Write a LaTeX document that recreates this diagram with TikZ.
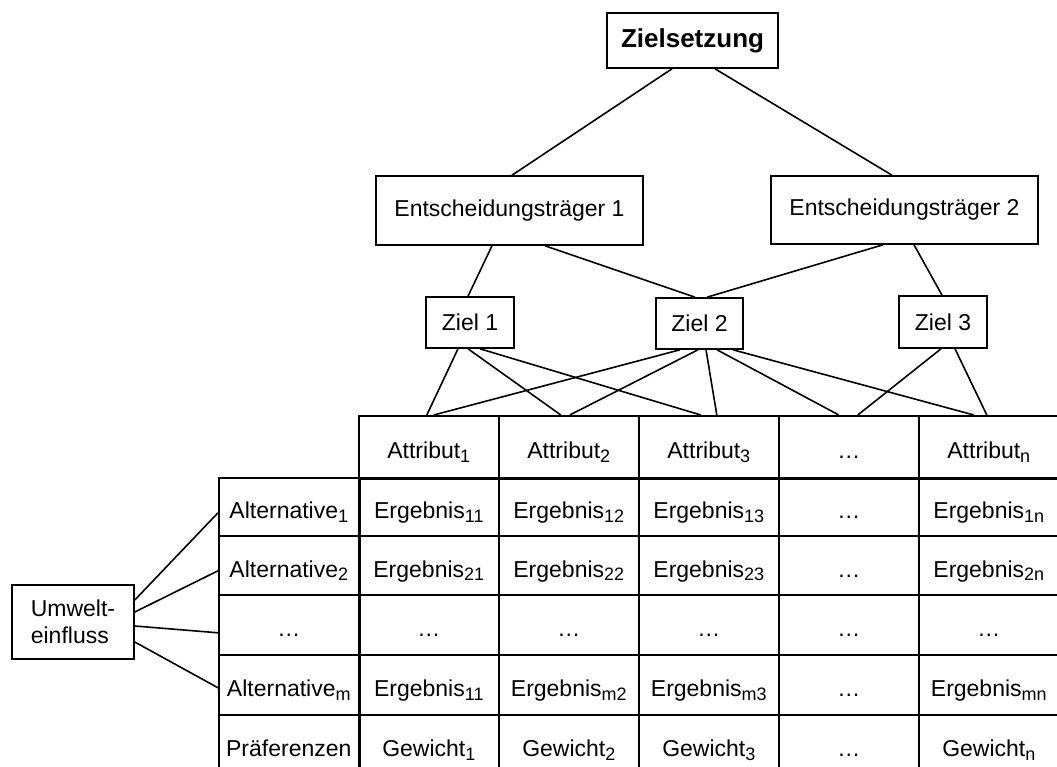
\documentclass[tikz,border=0pt]{standalone}
\usepackage{fontspec}
\setmainfont{Liberation Sans}
\usetikzlibrary{positioning}
\newcommand\sub[1]{\raisebox{-3.5pt}{\fontsize{18}{18}\selectfont #1}}

\begin{document}
\begin{tikzpicture}[x=1pt,y=-1pt,
    font=\fontsize{23}{27}\selectfont,
    box/.style={draw, line width=1.6pt, inner sep=0pt, align=left},
    cell/.style={draw, line width=1.6pt, inner sep=0pt, minimum width=140pt, text height=24pt, text depth=0pt, anchor=north west},
    link/.style={line width=1.6pt}]
    \useasboundingbox (0,0) rectangle (1057,767);
    \clip (0,0) rectangle (1057,767);

    \node[box, minimum width=171pt, minimum height=55pt, font=\bfseries\fontsize{26}{30}\selectfont] (ziel) at (692.5,40.5) {Zielsetzung};
    \node[box, minimum width=267pt, minimum height=69pt] (dm1) at (509.5,210.5) {Entscheidungsträger 1};
    \node[box, minimum width=267pt, minimum height=68pt] (dm2) at (904.5,210) {Entscheidungsträger 2};
    \node[box, minimum width=88pt, minimum height=51pt] (z1) at (470,322.5) {Ziel 1};
    \node[box, minimum width=87pt, minimum height=51pt] (z2) at (699.5,323.5) {Ziel 2};
    \node[box, minimum width=88pt, minimum height=52pt] (z3) at (943,322) {Ziel 3};
    \node[box, minimum width=122pt, minimum height=74pt] (umw) at (73,622) {Umwelt-\\einfluss};

    \foreach \t [count=\j] in {Attribut\sub{1}, Attribut\sub{2}, Attribut\sub{3}, \ldots, Attribut\sub{n}}
      \node[cell, minimum height=62pt] (a\j) at ({218+140*\j},415) {\t};
    \foreach \t [count=\j from 0] in {Alternative\sub{1}, Ergebnis\sub{11}, Ergebnis\sub{12}, Ergebnis\sub{13}, \ldots, Ergebnis\sub{1n}}
      \node[cell, minimum height=58pt] (r1-\j) at ({218+140*\j},477) {\t};
    \foreach \t [count=\j from 0] in {Alternative\sub{2}, Ergebnis\sub{21}, Ergebnis\sub{22}, Ergebnis\sub{23}, \ldots, Ergebnis\sub{2n}}
      \node[cell, minimum height=59pt] (r2-\j) at ({218+140*\j},535) {\t};
    \foreach \j in {0,...,5}
      \node[cell, minimum height=60pt] (r3-\j) at ({218+140*\j},594) {\ldots};
    \foreach \t [count=\j from 0] in {Alternative\sub{m}, Ergebnis\sub{11}, Ergebnis\sub{m2}, Ergebnis\sub{m3}, \ldots, Ergebnis\sub{mn}}
      \node[cell, minimum height=60pt] (r4-\j) at ({218+140*\j},654) {\t};
    \foreach \t [count=\j from 0] in {Präferenzen, Gewicht\sub{1}, Gewicht\sub{2}, Gewicht\sub{3}, \ldots, Gewicht\sub{n}}
      \node[cell, minimum height=60pt] (r5-\j) at ({218+140*\j},714) {\t};

    \draw[line width=3.5pt] (a1.south west) -- (a5.south east);
    \draw[line width=3.5pt] (r1-0.north east) -- (r5-0.south east);

    \draw[link] ([xshift=-20.5]ziel.south) -- ([xshift=2.5]dm1.north);
    \draw[link] ([xshift=22.5]ziel.south) -- ([xshift=-12.5]dm2.north);
    \draw[link] ([xshift=-17.5]dm1.south) -- ([xshift=-2]z1.north);
    \draw[link] ([xshift=35.5]dm1.south) -- ([xshift=-4.5]z2.north);
    \draw[link] ([xshift=-21.5]dm2.south) -- ([xshift=7.5]z2.north);
    \draw[link] ([xshift=9.5]dm2.south) -- ([xshift=-1]z3.north);

    \foreach \s/\ds/\e/\de in {z1/-12/a1/-2, z1/-2/a2/-8, z1/10/a3/-8,
        z2/-19.5/a1/5, z2/-1.5/a2/1, z2/6.5/a3/8, z2/17.5/a4/-10, z2/33.5/a5/-15,
        z3/-2/a4/9, z3/12/a5/-2}
      \draw[link] ([xshift=\ds]\s.south) -- ([xshift=\de]\e.north);

    \foreach \ds/\r/\dr in {22/r1/-6, 10/r2/-5.5, -4/r3/-8, -20/r4/-3}
      \draw[link] ([yshift=\ds]umw.east) -- ([yshift=\dr]\r-0.west);
\end{tikzpicture}
\end{document}
